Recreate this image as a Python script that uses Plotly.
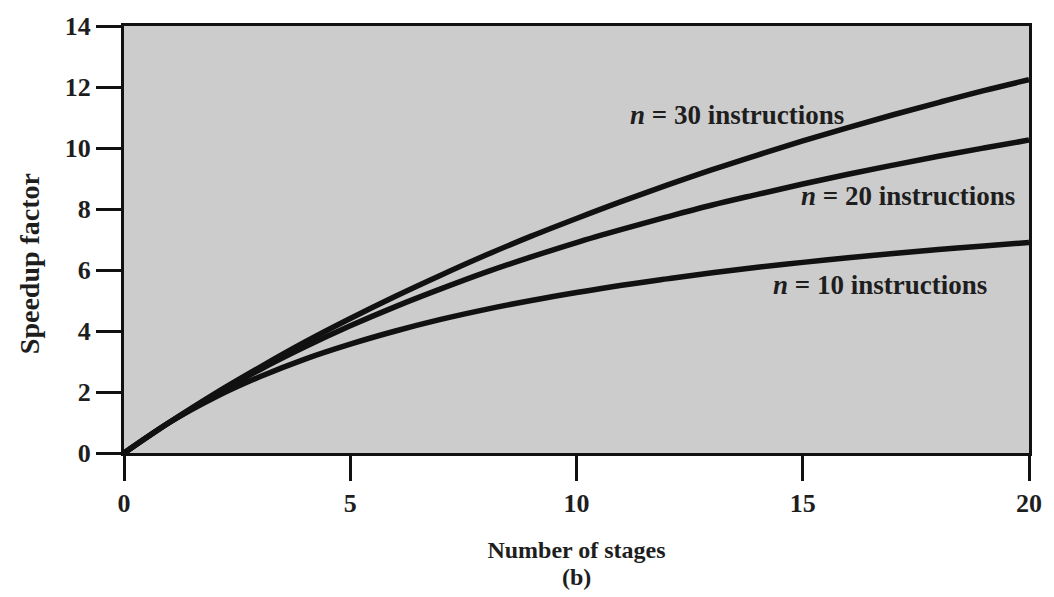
import plotly.graph_objects as go

stages = list(range(0, 21))
speedup_n10 = [0, 1.0, 1.82, 2.5, 3.08, 3.57, 4.0, 4.38, 4.71, 5.0, 5.26, 5.5, 5.71, 5.91,
               6.09, 6.25, 6.4, 6.54, 6.67, 6.79, 6.9]
speedup_n20 = [0, 1.0, 1.90, 2.73, 3.48, 4.17, 4.8, 5.38, 5.93, 6.43, 6.9, 7.33, 7.74, 8.13,
               8.48, 8.82, 9.14, 9.44, 9.73, 10.0, 10.26]
speedup_n30 = [0, 1.0, 1.94, 2.81, 3.64, 4.41, 5.14, 5.83, 6.49, 7.11, 7.69, 8.25, 8.78, 9.29,
               9.77, 10.23, 10.67, 11.09, 11.49, 11.88, 12.24]

series = [
    ("n = 10 instructions", speedup_n10, 16.7, 5.52),
    ("n = 20 instructions", speedup_n20, 17.33, 8.44),
    ("n = 30 instructions", speedup_n30, 13.55, 11.07),
]

x_ticks = [0, 5, 10, 15, 20]
y_ticks = [0, 2, 4, 6, 8, 10, 12, 14]

FONT = "Liberation Serif"
TXT = "#1e1e1e"

fig = go.Figure()
for name, vals, lx, ly in series:
    fig.add_trace(go.Scatter(
        x=stages, y=vals, mode="lines", name=name,
        line=dict(color="#111111", width=5.5, shape="spline"),
        showlegend=False,
    ))

for name, vals, lx, ly in series:
    label = "<i>n</i> = " + name.split("= ")[1]
    fig.add_annotation(
        x=lx, y=ly, xref="x", yref="y", text="<b>" + label + "</b>",
        showarrow=False, font=dict(family=FONT, size=27, color=TXT),
    )

axis_common = dict(
    showline=True, linecolor="#111111", linewidth=3, mirror=True,
    ticks="outside", ticklen=25, tickwidth=3, tickcolor="#111111",
    showgrid=False, zeroline=False,
    tickfont=dict(family=FONT, size=26, color=TXT, weight="bold"),
)

fig.update_xaxes(
    range=[0, 20], tickvals=x_ticks, ticktext=[str(v) for v in x_ticks],
    title=dict(text="<b>Number of stages</b>", standoff=24,
               font=dict(family=FONT, size=24, color=TXT)),
    **axis_common,
)
fig.update_yaxes(
    range=[0, 14], tickvals=y_ticks, ticktext=[str(v) for v in y_ticks],
    **axis_common,
)

# y-axis title (placed slightly below centre, as in the reference)
fig.add_annotation(
    x=-0.1035, y=0.443, xref="paper", yref="paper", text="<b>Speedup factor</b>",
    textangle=-90, showarrow=False, xanchor="center", yanchor="middle",
    font=dict(family=FONT, size=28, color=TXT),
)

fig.add_annotation(
    x=0.5, y=-0.325, xref="paper", yref="paper", text="<b>(b)</b>",
    showarrow=False, font=dict(family=FONT, size=24, color=TXT),
)

fig.update_layout(
    width=1054, height=597,
    margin=dict(l=124, r=22, t=22, b=144),
    plot_bgcolor="#cccccc", paper_bgcolor="white",
)

fig.write_html("out.html", config={"displayModeBar": False},
               post_script="document.body.style.margin='0';")
